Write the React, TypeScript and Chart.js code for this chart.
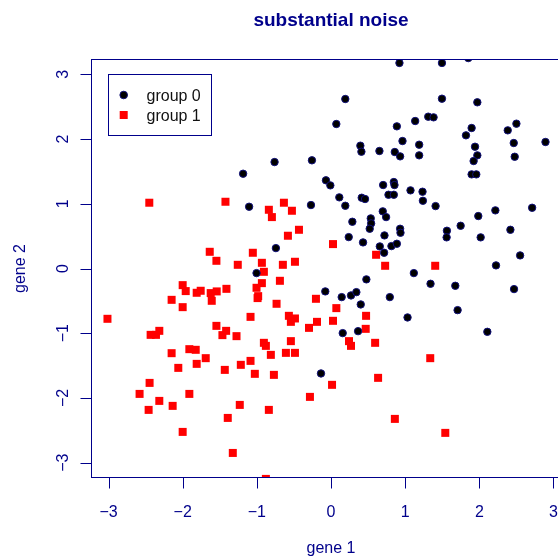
import React, { useEffect, useRef } from "react";
import { Chart, registerables } from "chart.js";

Chart.register(...registerables);

const TITLE = "substantial noise";
const X_LABEL = "gene 1";
const Y_LABEL = "gene 2";
const LEGEND_LABELS = ["group 0", "group 1"];
const X_TICKS = [-3, -2, -1, 0, 1, 2, 3];
const Y_TICKS = [-3, -2, -1, 0, 1, 2, 3];
const AXIS_MIN = -3.236;
const AXIS_MAX = 3.236;

const group0X = [
  -1.185, -1.104, 0.923, 0.193, 0.072, 0.888, 0.964, 0.396, 0.41, 0.653,
  0.86, 0.932, -0.761, -0.257, -0.068, -0.009, 0.703, 0.847, 0.856, 0.112,
  0.414, 0.459, 0.775, 0.847, 0.193, -0.27, 0.698, 0.743, 0.536, 0.541,
  0.522, 0.288, 0.932, 0.937, 0.721, 0.239, 0.432, 0.658, 0.815, 0.888,
  0.716, -0.743, -1.004, 1.496, 1.851, 1.496, 1.973, 1.135, 1.311, 1.383,
  2.5, 2.383, 1.896, 1.82, 1.189, 1.189, 1.942, 1.973, 1.923, 2.464,
  2.477, 2.892, 1.896, 1.959, 1.072, 1.234, 1.239, 1.41, 2.216, 2.712,
  1.986, 1.748, 2.419, 1.563, 1.559, 2.018, 2.55, 2.225, 1.117, -0.077,
  0.144, 0.27, 0.342, 0.477, 0.401, 0.793, 1.032, 0.158, 0.365, -0.135,
  1.342, 1.676, 2.468, 1.707, 2.108,
];
const group0Y = [
  1.464, 0.954, 3.175, 2.618, 2.232, 2.196, 1.969, 1.897, 1.804, 1.815,
  1.799, 1.732, 1.644, 1.671, 1.362, 1.284, 1.289, 1.335, 1.289, 1.099,
  1.093, 1.073, 1.139, 1.139, 0.969, 0.98, 0.883, 0.794, 0.774, 0.697,
  0.614, 0.722, 0.614, 0.552, 0.511, 0.485, 0.403, 0.341, 0.346, 0.382,
  0.243, 0.315, -0.071, 3.175, 3.25, 2.623, 2.567, 2.278, 2.345, 2.335,
  2.237, 2.134, 2.17, 2.057, 1.912, 1.748, 1.881, 1.748, 1.66, 1.938,
  1.726, 1.954, 1.454, 1.454, 1.207, 1.186, 1.046, 0.964, 0.898, 0.938,
  0.81, 0.66, 0.598, 0.583, 0.481, 0.481, 0.202, 0.048, -0.071, -0.354,
  -0.442, -0.416, -0.365, -0.168, -0.555, -0.442, -0.756, -0.998, -0.968, -1.621,
  -0.236, -0.267, -0.318, -0.643, -0.978,
];

const group1X = [
  -2.45, -1.423, -1.635, -1.545, -1.257, -1.054, -0.635, -0.838, -0.527, -0.797,
  -0.432, -0.581, 0.027, -0.932, -0.649, -0.486, -0.905, 0.608, 0.73, 1.405,
  -2.0, -1.959, -1.811, -1.757, -1.622, -1.541, -1.41, -1.608, -2.149, -2.0,
  -3.014, -1.545, -1.414, -1.464, -1.274, -1.085, -2.315, -2.432, -2.36, -2.149,
  -1.91, -1.824, -1.689, -1.811, -2.059, -1.432, -1.216, -1.085, -2.446, -2.581,
  -1.91, -2.315, -2.459, -2.135, -1.23, -1.392, -2.0, -1.324, -0.932, -1.004,
  -0.982, -0.99, -0.689, -0.734, -0.568, -0.486, -0.541, -0.203, 0.072, -0.189,
  0.027, -0.297, 0.473, 0.468, 0.243, 0.27, 0.595, -0.905, -0.878, -0.541,
  -0.811, -0.608, -0.486, -1.027, -0.77, 0.014, 0.635, -0.284, -0.838, 0.861,
  -0.878, 1.338, 1.541,
];
const group1Y = [
  1.016, 1.031, 0.258, 0.119, 0.057, 0.243, 1.016, 0.907, 0.892, 0.794,
  0.598, 0.506, 0.377, 0.088, 0.057, 0.104, -0.051, 0.212, 0.042, 0.042,
  -0.257, -0.349, -0.375, -0.344, -0.38, -0.354, -0.314, -0.499, -0.484, -0.597,
  -0.777, -0.886, -0.963, -1.029, -1.045, -0.747, -0.963, -1.025, -1.025, -1.308,
  -1.246, -1.256, -1.385, -1.473, -1.535, -1.566, -1.488, -1.427, -1.767, -1.937,
  -1.937, -2.045, -2.184, -2.122, -2.107, -2.308, -2.524, -2.849, -0.226, -0.298,
  -0.427, -0.457, -0.19, -0.545, -0.731, -0.772, -0.824, -0.468, -0.612, -0.824,
  -0.808, -0.917, -0.731, -0.932, -1.122, -1.195, -1.148, -1.148, -1.195, -1.122,
  -1.334, -1.303, -1.303, -1.627, -1.643, -1.797, -1.689, -1.983, -2.184, -2.323,
  -3.25, -1.385, -2.539,
];

const NAVY = "#00008B";
const FONT = "'Liberation Sans', Arial, Helvetica, sans-serif";

const fmt = (v: number) => (v < 0 ? "\u2212" + Math.abs(v) : String(v));

const rPlotPlugin = {
  id: "rPlot",
  afterDatasetsDraw(chart: any) {
    const { ctx, chartArea: a, scales } = chart;
    const xs = scales.x;
    const ys = scales.y;
    ctx.save();
    ctx.strokeStyle = NAVY;
    ctx.lineWidth = 1;
    // box
    ctx.strokeRect(a.left + 0.5, a.top + 0.5, a.right - a.left, a.bottom - a.top - 1);

    // x axis
    const by = a.bottom - 0.5;
    ctx.beginPath();
    ctx.moveTo(xs.getPixelForValue(X_TICKS[0]), by);
    ctx.lineTo(xs.getPixelForValue(X_TICKS[X_TICKS.length - 1]), by);
    X_TICKS.forEach((v) => {
      const px = Math.round(xs.getPixelForValue(v)) + 0.5;
      ctx.moveTo(px, by);
      ctx.lineTo(px, by + 11);
    });
    ctx.stroke();

    // y axis
    const lx = a.left + 0.5;
    ctx.beginPath();
    ctx.moveTo(lx, ys.getPixelForValue(Y_TICKS[0]));
    ctx.lineTo(lx, ys.getPixelForValue(Y_TICKS[Y_TICKS.length - 1]));
    Y_TICKS.forEach((v) => {
      const py = Math.round(ys.getPixelForValue(v)) + 0.5;
      ctx.moveTo(lx, py);
      ctx.lineTo(lx - 11, py);
    });
    ctx.stroke();

    ctx.fillStyle = NAVY;
    ctx.font = `16px ${FONT}`;
    ctx.textAlign = "center";
    ctx.textBaseline = "alphabetic";
    X_TICKS.forEach((v) => {
      ctx.fillText(fmt(v), xs.getPixelForValue(v), 517);
    });
    Y_TICKS.forEach((v) => {
      ctx.save();
      ctx.translate(67.5, ys.getPixelForValue(v));
      ctx.rotate(-Math.PI / 2);
      ctx.fillText(fmt(v), 0, 0);
      ctx.restore();
    });

    // axis titles
    const cx = (a.left + a.right) / 2;
    const cy = (a.top + a.bottom) / 2;
    ctx.fillText(X_LABEL, cx, 553);
    ctx.save();
    ctx.translate(25, cy);
    ctx.rotate(-Math.PI / 2);
    ctx.fillText(Y_LABEL, 0, 0);
    ctx.restore();

    // title
    ctx.font = `bold 19px ${FONT}`;
    ctx.fillText(TITLE, cx, 26);

    // legend
    ctx.fillStyle = "#ffffff";
    ctx.fillRect(108.5, 74.5, 103, 61);
    ctx.strokeStyle = NAVY;
    ctx.strokeRect(108.5, 74.5, 103, 61);
    ctx.beginPath();
    ctx.arc(123.7, 95, 3.8, 0, Math.PI * 2);
    ctx.fillStyle = "#000000";
    ctx.fill();
    ctx.strokeStyle = "#10107a";
    ctx.stroke();
    ctx.fillStyle = "#ff0000";
    ctx.fillRect(119.7, 111, 8, 8);
    ctx.fillStyle = "#111111";
    ctx.font = `16px ${FONT}`;
    ctx.textAlign = "left";
    ctx.fillText(LEGEND_LABELS[0], 146.5, 101);
    ctx.fillText(LEGEND_LABELS[1], 146.5, 121);
    ctx.restore();
  },
};

export default function App() {
  const ref = useRef<HTMLCanvasElement | null>(null);
  useEffect(() => {
    if (!ref.current) return;
    const toPts = (xs: number[], ys: number[]) => xs.map((x, i) => ({ x, y: ys[i] }));
    const chart = new Chart(ref.current, {
      type: "scatter",
      data: {
        datasets: [
          {
            label: LEGEND_LABELS[0],
            data: toPts(group0X, group0Y),
            pointStyle: "circle",
            pointRadius: 3.7,
            pointBackgroundColor: "#000000",
            pointBorderColor: "#10107a",
            pointBorderWidth: 1,
            clip: 0,
          } as any,
          {
            label: LEGEND_LABELS[1],
            data: toPts(group1X, group1Y),
            pointStyle: "rect",
            pointRadius: 5.66,
            pointBackgroundColor: "#ff0000",
            pointBorderColor: "#ff0000",
            pointBorderWidth: 0,
            clip: 0,
          } as any,
        ],
      },
      options: {
        animation: false,
        responsive: false,
        maintainAspectRatio: false,
        events: [],
        layout: { padding: { left: 91, top: 59, right: 29, bottom: 81 } },
        plugins: { legend: { display: false }, tooltip: { enabled: false } },
        scales: {
          x: { type: "linear", min: AXIS_MIN, max: AXIS_MAX, display: false },
          y: { type: "linear", min: AXIS_MIN, max: AXIS_MAX, display: false },
        },
      },
      plugins: [rPlotPlugin],
    });
    return () => chart.destroy();
  }, []);
  return (
    <div
      style={{
        position: "fixed",
        left: 0,
        top: 0,
        width: 558,
        height: 559,
        overflow: "hidden",
        background: "#ffffff",
      }}
    >
      <canvas ref={ref} width={600} height={559} style={{ display: "block", width: 600, height: 559 }} />
    </div>
  );
}
